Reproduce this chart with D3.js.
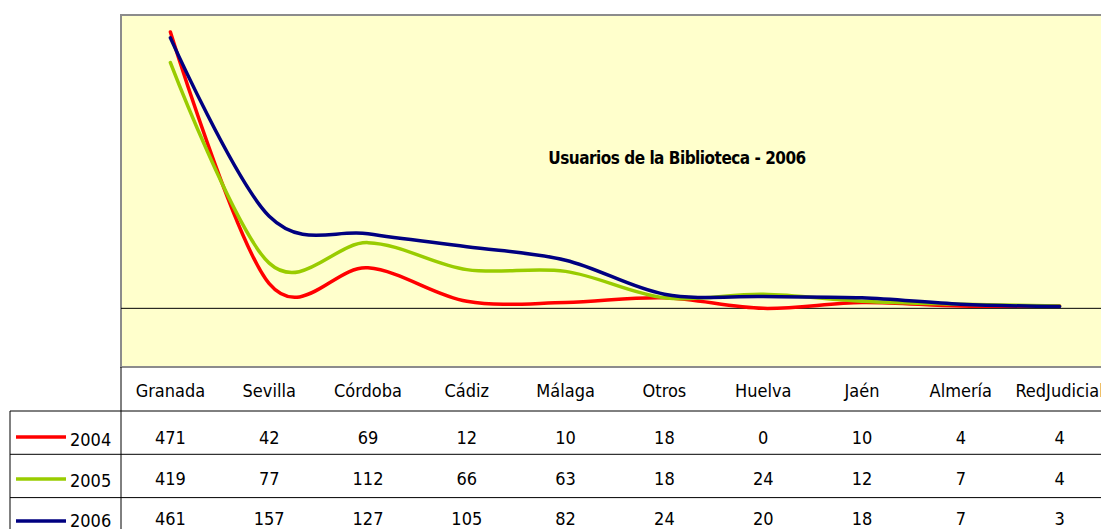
<!DOCTYPE html>
<html>
<head>
<meta charset="utf-8">
<script src="https://cdn.jsdelivr.net/npm/d3@7"></script>
<style>
    body { margin: 0; background: #fff; overflow: hidden; }
    text { font-family: "Liberation Sans Narrow", "DejaVu Sans Condensed", "Roboto Condensed", sans-serif; }
</style>
</head>
<body>
<svg id="chart" width="1101" height="529"></svg>
<script>
    // data
    let categories = ["Granada", "Sevilla", "Córdoba", "Cádiz", "Málaga", "Otros", "Huelva", "Jaén", "Almería", "RedJudicial"];
    let years = ["2004", "2005", "2006"];
    let values2004 = [471, 42, 69, 12, 10, 18, 0, 10, 4, 4];
    let values2005 = [419, 77, 112, 66, 63, 18, 24, 12, 7, 4];
    let values2006 = [461, 157, 127, 105, 82, 24, 20, 18, 7, 3];
    let colors = ["#ff0000", "#99cc00", "#000080"];
    let title = "Usuarios de la Biblioteca - 2006";

    let series = [values2004, values2005, values2006];

    let svg = d3.select("#chart");
    let plot = {left: 121, right: 1109, top: 15, bottom: 367};

    let x = d3.scaleBand().domain(categories).range([plot.left, plot.right]);
    let y = d3.scaleLinear().domain([-100, 500]).range([plot.bottom, plot.top]);

    // plot background
    svg.append("rect")
        .attr("x", plot.left).attr("y", plot.top)
        .attr("width", plot.right - plot.left).attr("height", plot.bottom - plot.top)
        .attr("fill", "#ffffcc")
        .attr("stroke", "#8c8c8c").attr("stroke-width", 2);

    // zero line
    svg.append("line")
        .attr("x1", plot.left).attr("x2", plot.right)
        .attr("y1", y(0)).attr("y2", y(0))
        .attr("stroke", "#000").attr("stroke-width", 1);

    svg.append("text")
        .attr("x", 677).attr("y", 164)
        .attr("text-anchor", "middle")
        .attr("font-size", 17).attr("font-weight", "bold")
        .attr("letter-spacing", -0.5)
        .text(title);

    let line = d3.line()
        .x((d, i) => x(categories[i]) + x.bandwidth() / 2)
        .y(d => y(d))
        .curve(d3.curveCatmullRom.alpha(0));

    svg.append("g").selectAll("path")
        .data(series)
        .enter()
        .append("path")
        .attr("d", line)
        .attr("fill", "none")
        .attr("stroke", (d, i) => colors[i])
        .attr("stroke-width", 3.5)
        .attr("stroke-linejoin", "round")
        .attr("stroke-linecap", "round");

    // data table below the plot
    let rowH = 43.3, tableLeft = 10;
    let rowTop = i => 411 + i * rowH;

    let table = svg.append("g");
    table.append("line")
        .attr("x1", plot.left).attr("x2", plot.left)
        .attr("y1", plot.bottom).attr("y2", 529)
        .attr("stroke", "#000");
    table.append("line")
        .attr("x1", tableLeft).attr("x2", tableLeft)
        .attr("y1", rowTop(0)).attr("y2", 529)
        .attr("stroke", "#808080").attr("stroke-width", 2);
    table.selectAll(".hline")
        .data(years)
        .enter()
        .append("line")
        .attr("x1", tableLeft).attr("x2", plot.right)
        .attr("y1", (d, i) => rowTop(i)).attr("y2", (d, i) => rowTop(i))
        .attr("stroke", "#000");

    table.selectAll(".cat")
        .data(categories)
        .enter()
        .append("text")
        .attr("x", d => x(d) + x.bandwidth() / 2)
        .attr("y", 397)
        .attr("text-anchor", "middle")
        .attr("font-size", 18)
        .text(d => d);

    years.forEach(function (yr, i) {
        let top = rowTop(i),
            base = top + 33 - 2.8 * i;
        table.append("line")
            .attr("x1", 16).attr("x2", 66)
            .attr("y1", top + 26 - 1.3 * i).attr("y2", top + 26 - 1.3 * i)
            .attr("stroke", colors[i]).attr("stroke-width", 3.5);
        table.append("text")
            .attr("x", 70).attr("y", base + 2)
            .attr("font-size", 18)
            .text(yr);
        table.selectAll(".v" + i)
            .data(series[i])
            .enter()
            .append("text")
            .attr("x", (d, j) => x(categories[j]) + x.bandwidth() / 2)
            .attr("y", base)
            .attr("text-anchor", "middle")
            .attr("font-size", 18)
            .text(d => d);
    });
</script>
</body>
</html>
